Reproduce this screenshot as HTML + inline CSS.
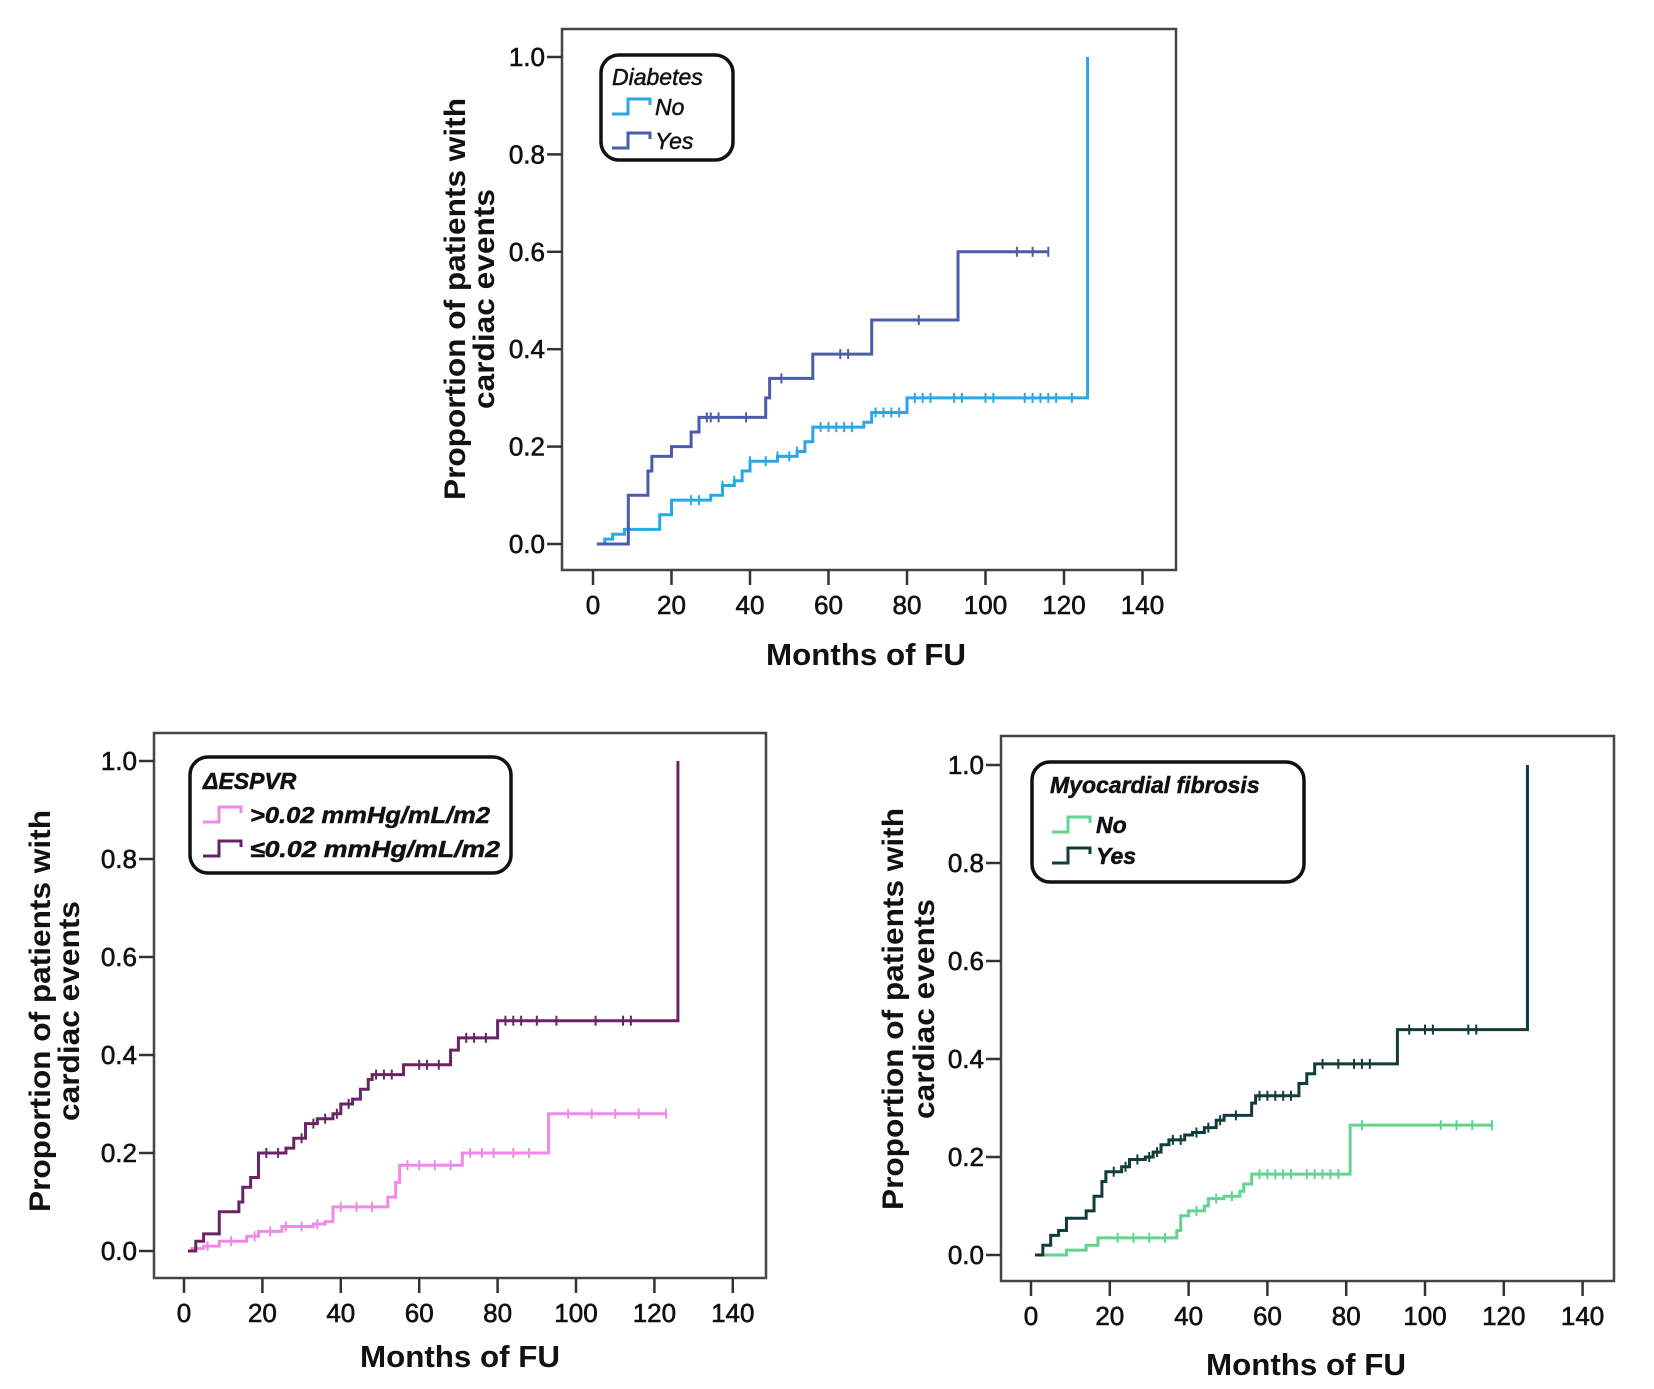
<!DOCTYPE html>
<html><head><meta charset="utf-8"><style>
html,body{margin:0;padding:0;background:#fff;}
svg{display:block;}
text{font-family:"Liberation Sans",Arial,sans-serif;fill:#111;}
</style></head><body>
<svg id="fig" width="1654" height="1389" viewBox="0 0 1654 1389" xmlns="http://www.w3.org/2000/svg"></svg>
<script>
// ---- data ----
const xTicks = [0,20,40,60,80,100,120,140];
const yTicks = [0,0.2,0.4,0.6,0.8,1.0];
const yTickLabels = ["0.0","0.2","0.4","0.6","0.8","1.0"];

// Chart A: Diabetes
const diabNoTimes  = [1,3,5,8,15,17,20,28,30,33,36,38,40,47,52,54,56,68,69,71,80,126];
const diabNoValues = [0,0.01,0.02,0.03,0.03,0.06,0.09,0.09,0.10,0.12,0.13,0.15,0.17,0.18,0.19,0.21,0.24,0.24,0.25,0.27,0.30,1.0];
const diabNoEnd = 126;
const diabNoCensor = [25,27,33,36,40,44,47,50,52,58,60,62,64,66,72,74,76,78,82,84,86,92,94,100,102,110,112,114,116,118,122];
const diabYesTimes  = [1,8,9,14,15,20,25,27,44,45,56,71,93];
const diabYesValues = [0,0,0.10,0.15,0.18,0.20,0.23,0.26,0.30,0.34,0.39,0.46,0.60];
const diabYesEnd = 116;
const diabYesCensor = [29,30,32,39,48,63,65,83,108,112,116];

// Chart B: ΔESPVR
const espHiTimes  = [1,2,5,9,16,19,25,33,36,38,52,54,55,71,93];
const espHiValues = [0,0.005,0.01,0.02,0.03,0.04,0.05,0.055,0.06,0.09,0.11,0.14,0.175,0.20,0.28];
const espHiEnd = 123;
const espHiCensor = [6,12,18,22,26,30,34,40,44,48,57,60,64,68,73,76,79,84,88,98,104,110,116,123];
const espLoTimes  = [1,3,5,9,14,15,17,19,26,28,31,34,38,40,43,45,47,48,56,68,70,80,126];
const espLoValues = [0,0.02,0.035,0.08,0.10,0.13,0.15,0.20,0.21,0.23,0.26,0.27,0.28,0.30,0.31,0.33,0.35,0.36,0.38,0.41,0.435,0.47,1.0];
const espLoEnd = 126;
const espLoCensor = [21,24,30,33,36,39,42,49,51,53,60,62,65,72,74,77,82,84,86,90,95,105,112,114];

// Chart C: Myocardial fibrosis
const fibNoTimes  = [1,9,14,17,37,38,40,44,45,49,53,54,56,81];
const fibNoValues = [0,0.01,0.02,0.035,0.05,0.08,0.09,0.10,0.115,0.12,0.13,0.145,0.165,0.265];
const fibNoEnd = 117;
const fibNoCensor = [22,26,30,34,42,47,51,58,60,62,64,66,70,72,74,76,78,84,104,108,112,117];
const fibYesTimes  = [1,3,5,7,9,14,16,18,19,23,25,29,31,33,35,39,41,44,47,49,56,57,68,70,72,93,126];
const fibYesValues = [0,0.02,0.04,0.05,0.075,0.09,0.12,0.15,0.17,0.18,0.195,0.20,0.21,0.225,0.235,0.245,0.25,0.26,0.275,0.285,0.31,0.325,0.35,0.37,0.39,0.46,1.0];
const fibYesEnd = 126;
const fibYesCensor = [21,24,27,30,32,36,38,42,45,48,52,58,60,62,64,66,74,78,82,84,86,96,100,102,111,113];

// ---- drawing ----
const NS = "http://www.w3.org/2000/svg";
const svg = document.getElementById('fig');
function mk(tag, attrs, parent){
  const e = document.createElementNS(NS, tag);
  for (const k in attrs) e.setAttribute(k, attrs[k]);
  (parent||svg).appendChild(e);
  return e;
}
function valueAt(times, values, t){
  let v = values[0];
  for (let i=0;i<times.length;i++){ if (times[i] <= t) v = values[i]; }
  return v;
}
function drawSeries(g, xs, ys, times, values, end, censor, color, name){
  let d = "M" + xs(times[0]) + "," + ys(values[0]);
  for (let i=1;i<times.length;i++){
    d += " H" + xs(times[i]) + " V" + ys(values[i]);
  }
  d += " H" + xs(end);
  const p = mk('path', {d:d, fill:'none', stroke:color, 'stroke-width':3, 'stroke-linejoin':'miter'}, g);
  
  
  for (const c of censor){
    const v = valueAt(times, values, c);
    const t = mk('line', {x1:xs(c), x2:xs(c), y1:ys(v)-5, y2:ys(v)+5, stroke:color, 'stroke-width':2}, g);
    
    
  }
}
function drawChart(cfg){
  const g = mk('g', {});
  
  
  const xs = m => cfg.x0 + m*cfg.kx;
  const ys = v => cfg.y0 - v*cfg.ky;
  const frame = mk('rect', {x:cfg.L, y:cfg.T, width:cfg.R-cfg.L, height:cfg.B-cfg.T, fill:'#fff', stroke:'#444', 'stroke-width':2.5}, g);
  
  
  yTicks.forEach((v,i)=>{
    const tk = mk('line', {x1:cfg.L-15, x2:cfg.L, y1:ys(v), y2:ys(v), stroke:'#333', 'stroke-width':2.5}, g);
    
    
    const tl = mk('text', {x:cfg.L-17, y:ys(v)+9, 'text-anchor':'end', 'font-size':26, stroke:'#111', 'stroke-width':0.6}, g);
    tl.textContent = yTickLabels[i];
    
    
  });
  xTicks.forEach(m=>{
    const tk = mk('line', {x1:xs(m), x2:xs(m), y1:cfg.B, y2:cfg.B+15, stroke:'#333', 'stroke-width':2.5}, g);
    
    
    const tl = mk('text', {x:xs(m), y:cfg.B+44, 'text-anchor':'middle', 'font-size':26, stroke:'#111', 'stroke-width':0.6}, g);
    tl.textContent = String(m);
    
    
  });
  const xt = mk('text', {x:cfg.xtX, y:cfg.xtY+11, 'text-anchor':'middle', 'font-size':31, 'font-weight':'bold', textLength:200, lengthAdjust:'spacingAndGlyphs'}, g);
  xt.textContent = 'Months of FU';
  
  
  const yt1 = mk('text', {x:0, y:0, 'text-anchor':'middle', 'font-size':30, 'font-weight':'bold', textLength:402, lengthAdjust:'spacingAndGlyphs', transform:`translate(${cfg.ytX1+10},${cfg.ytY}) rotate(-90)`}, g);
  yt1.textContent = 'Proportion of patients with';
  
  
  const yt2 = mk('text', {x:0, y:0, 'text-anchor':'middle', 'font-size':30, 'font-weight':'bold', textLength:220, lengthAdjust:'spacingAndGlyphs', transform:`translate(${cfg.ytX2+10},${cfg.ytY}) rotate(-90)`}, g);
  yt2.textContent = 'cardiac events';
  
  

  cfg.series.forEach(s => drawSeries(g, xs, ys, s.times, s.values, s.end, s.censor, s.color, s.name));

  // legend
  const lg = cfg.legend;
  const lgG = mk('g', {}, g);
  
  
  const box = mk('rect', {x:lg.x1, y:lg.y1, width:lg.x2-lg.x1, height:lg.y2-lg.y1, rx:18, ry:18, fill:'#fff', stroke:'#111', 'stroke-width':3.5}, lgG);
  
  
  const lt = mk('text', {x:lg.tx, y:lg.ty+8, 'font-size':23, 'font-style':'italic', 'font-weight':lg.bold?'bold':'normal', stroke:'#111', 'stroke-width':0.5}, lgG);
  lt.textContent = lg.title;
  
  
  lg.entries.forEach((en,i)=>{
    const sx = lg.sx, sy = en.y;
    const sym = mk('path', {d:`M${sx},${sy+7} H${sx+16} V${sy-8} H${sx+38} V${sy-2}`, fill:'none', stroke:cfg.series[i].color, 'stroke-width':3}, lgG);
    
    
    const et = mk('text', {x:lg.ex, y:sy+8, 'font-size':23, 'font-style':'italic', 'font-weight':lg.bold?'bold':'normal', stroke:'#111', 'stroke-width':0.5}, lgG);
    if (en.len) { et.setAttribute('textLength', en.len); et.setAttribute('lengthAdjust','spacingAndGlyphs'); }
    et.textContent = en.label;
    
    
  });
}

drawChart({
  name:'chart-diabetes', L:562, R:1176, T:29, B:570, x0:593, kx:3.925, y0:544, ky:487,
  xtX:866, xtY:654, ytX1:455, ytX2:484, ytY:299,
  series:[
    {times:diabNoTimes, values:diabNoValues, end:diabNoEnd, censor:diabNoCensor, color:'#28a9e6', name:'diabetes-no'},
    {times:diabYesTimes, values:diabYesValues, end:diabYesEnd, censor:diabYesCensor, color:'#4b5caa', name:'diabetes-yes'}
  ],
  legend:{x1:601, y1:55, x2:733, y2:160, title:'Diabetes', tx:612, ty:77, sx:612, ex:655,
    entries:[{label:'No', y:107},{label:'Yes', y:141}]}
});
drawChart({
  name:'chart-espvr', L:154, R:766, T:733, B:1278, x0:184, kx:3.92, y0:1251, ky:490,
  xtX:460, xtY:1356, ytX1:40, ytX2:69, ytY:1011,
  series:[
    {times:espHiTimes, values:espHiValues, end:espHiEnd, censor:espHiCensor, color:'#f08ae8', name:'espvr-high'},
    {times:espLoTimes, values:espLoValues, end:espLoEnd, censor:espLoCensor, color:'#6a2466', name:'espvr-low'}
  ],
  legend:{x1:190, y1:757, x2:511, y2:873, title:'ΔESPVR', tx:203, ty:781, sx:203, ex:250, bold:true,
    entries:[{label:'>0.02 mmHg/mL/m2', y:815, len:240},{label:'≤0.02 mmHg/mL/m2', y:849, len:250}]}
});
drawChart({
  name:'chart-fibrosis', L:1001, R:1614, T:736, B:1281, x0:1031, kx:3.94, y0:1255, ky:490,
  xtX:1306, xtY:1364, ytX1:893, ytX2:924, ytY:1009,
  series:[
    {times:fibNoTimes, values:fibNoValues, end:fibNoEnd, censor:fibNoCensor, color:'#62d48e', name:'fibrosis-no'},
    {times:fibYesTimes, values:fibYesValues, end:fibYesEnd, censor:fibYesCensor, color:'#123c3a', name:'fibrosis-yes'}
  ],
  legend:{x1:1032, y1:762, x2:1304, y2:882, title:'Myocardial fibrosis', tx:1050, ty:785, sx:1052, ex:1096, bold:true,
    entries:[{label:'No', y:825},{label:'Yes', y:856}]}
});
</script>
</body></html>
